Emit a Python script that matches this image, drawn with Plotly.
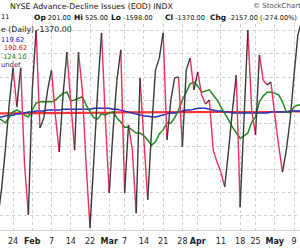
import plotly.graph_objects as go

# trading-day index (0 = Jan 24, 2011)
days = list(range(-4, 76))

# NYSE Advance-Decline Issues (daily)
ad_values = [-2110, -1460, -590, 390, 1200, 350, 1200, -910, -2000, 720,
             2020, -110, 110, 720, 1150, 170, -630, 610, 1540, 460,
             -590, 1540, 720, -910, -2280, -800, 720, 1960, 70, -1520,
             -150, 930, 1590, -1520, -40, -590, -1960, 980, -370, -1670,
             -150, 1150, 1410, 1960, -370, 500, 980, 1000, -520, 1150,
             1410, 720, 1110, 610, 410, 500, -590, -850, -1070, -1390,
             -590, 280, 1040, -1830, 70, 2020, 280, -260, 1480, 930,
             830, 890, 170, -480, -1070, -590, 70, 1040, 1910, 2240]

# green moving average
ma_green = [110, 70, 0, 110, 240, 280, 240, 170, 130, 280,
            430, 460, 460, 460, 460, 500, 570, 650, 670, 480,
            500, 540, 570, 390, 240, 110, 90, 200, 170, 220,
            240, 110, 20, -90, -90, -150, -220, -220, -280, -370,
            -480, -410, -240, -150, 0, 0, 110, 280, 500, 670,
            850, 890, 800, 670, 700, 720, 610, 500, 350, 220,
            70, -90, -220, -330, -280, -220, 20, 130, 460, 590,
            670, 670, 650, 610, 460, 240, 220, 350, 390, 390]

# blue moving average
ma_blue = [130, 130, 150, 170, 170, 200, 200, 220, 240, 240,
           260, 260, 260, 280, 280, 280, 280, 300, 300, 300,
           300, 300, 300, 300, 300, 320, 320, 320, 320, 320,
           300, 300, 280, 260, 240, 220, 200, 170, 150, 150,
           130, 130, 150, 170, 200, 220, 220, 240, 260, 280,
           280, 300, 320, 320, 320, 300, 280, 260, 260, 240,
           240, 220, 220, 220, 220, 220, 220, 220, 220, 220,
           220, 240, 240, 240, 240, 240, 260, 260, 260, 260]

# red moving average
ma_red = [210, 210, 210, 210, 210, 210, 210, 215, 215, 215,
          215, 215, 215, 220, 220, 220, 220, 220, 220, 220,
          220, 220, 225, 225, 225, 225, 225, 225, 225, 225,
          225, 230, 230, 230, 230, 230, 230, 230, 230, 230,
          230, 230, 230, 230, 235, 235, 235, 235, 235, 235,
          235, 235, 235, 235, 235, 240, 240, 240, 240, 240,
          240, 240, 240, 240, 240, 240, 240, 245, 245, 245,
          245, 245, 245, 245, 245, 245, 250, 250, 250, 250]

tick_idx = [0, 5, 10, 15, 20, 25, 29, 34, 39, 44, 48, 54, 59, 63, 68, 73]
tick_text = ["24", "<b>Feb</b>", "7", "14", "22", "<b>Mar</b>", "7", "14", "21", "28",
             "<b>Apr</b>", "11", "18", "25", "<b>May</b>", "9"]

# split the daily line into rising (dark) and falling (red) segments
up_x, up_y, dn_x, dn_y = [], [], [], []
for i in range(len(days) - 1):
    if ad_values[i + 1] >= ad_values[i]:
        up_x += [days[i], days[i + 1], None]
        up_y += [ad_values[i], ad_values[i + 1], None]
    else:
        dn_x += [days[i], days[i + 1], None]
        dn_y += [ad_values[i], ad_values[i + 1], None]

fig = go.Figure()
fig.add_trace(go.Scatter(x=days, y=ma_red, mode="lines",
                         line=dict(color="rgba(255,30,30,0.9)", width=2.2)))
fig.add_trace(go.Scatter(x=days, y=ma_blue, mode="lines",
                         line=dict(color="#2030c8", width=1.5)))
fig.add_trace(go.Scatter(x=days, y=ma_green, mode="lines",
                         line=dict(color="#1e8a1e", width=1.5)))
fig.add_trace(go.Scatter(x=dn_x, y=dn_y, mode="lines", connectgaps=False,
                         line=dict(color="#e8305a", width=1.4)))
fig.add_trace(go.Scatter(x=up_x, y=up_y, mode="lines", connectgaps=False,
                         line=dict(color="#3a3a3a", width=1.4)))

W, H, TOP, BOT = 300, 250, 24, 230


def px(x):
    return x / W


def py(y):
    return (BOT - y) / (BOT - TOP)


def note(text, x, y, size=8, color="#111", anchor="left"):
    fig.add_annotation(text=text, x=px(x), y=py(y), xref="paper", yref="paper",
                       xanchor=anchor, yanchor="middle", showarrow=False,
                       font=dict(family="DejaVu Sans", size=size, color=color))


def stat(label, value, x, y=17.5):
    note(f"<b><span style='font-size:7.5px'>{label}</span></b> {value}", x, y, size=6.6)


note("NYSE Advance-Decline Issues (EOD) INDX", 8, 6, size=7.8)
note("© StockCharts.com", 251, 6, size=7, color="#555")
note("11", -1, 17.5, size=6.6)
stat("Op", "201.00", 32)
stat("Hi", "525.00", 72)
stat("Lo", "-1598.00", 109)
stat("Cl", "-1370.00", 163)
stat("Chg", "-2157.00 (-274.00%)", 208)
note("e (Daily) -1370.00", -1, 30, size=7.8)
note("119.62", -1, 40, size=6.6, color="#1010c0")
note("190.62", 2, 48.5, size=6.6, color="#e01010")
note("-124.10", -1, 57, size=6.6, color="#108010")
note("undef", -1, 65, size=6.8, color="#333")

fig.update_layout(
    width=W, height=H, showlegend=False,
    margin=dict(l=0, r=0, t=TOP, b=H - BOT, pad=0),
    paper_bgcolor="white", plot_bgcolor="white",
    xaxis=dict(range=[-3.377, 74.55], tickmode="array", tickvals=tick_idx, ticktext=tick_text,
               showgrid=True, gridcolor="#cfcfcf", griddash="dot", gridwidth=1,
               zeroline=False, showline=True, linecolor="#d0d0d0", ticks="",
               ticklabelstandoff=3,
               tickfont=dict(family="DejaVu Sans", size=8, color="#222")),
    yaxis=dict(range=[-2326, 2152], tickvals=[-2000, -1500, -1000, -500, 0, 500, 1000, 1500, 2000],
               showticklabels=False, showgrid=True, gridcolor="#cfcfcf", griddash="dot",
               gridwidth=1, zeroline=False, ticks=""),
)

fig.write_html("out.html")
